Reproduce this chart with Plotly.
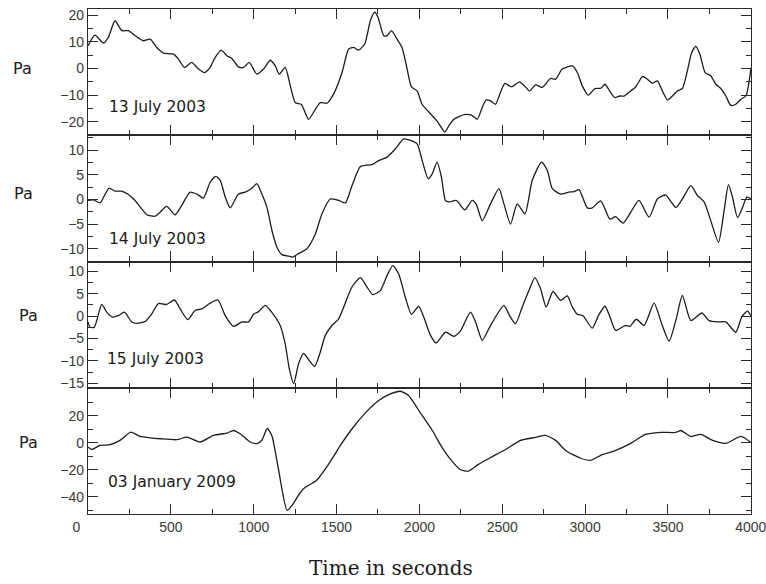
import plotly.graph_objects as go
from plotly.subplots import make_subplots

# ---- pressure records (Pa) against time (s) ----
t_13jul = [0, 42, 93, 123, 163, 204, 244, 284, 334, 375,
           415, 455, 516, 546, 582, 626, 667, 703, 737, 767,
           804, 838, 868, 908, 939, 973, 1019, 1059, 1100, 1130,
           1154, 1190, 1221, 1251, 1287, 1331, 1372, 1402, 1442, 1482,
           1533, 1573, 1603, 1633, 1670, 1704, 1730, 1750, 1785, 1805,
           1831, 1865, 1895, 1926, 1952, 1986, 2016, 2057, 2107, 2153,
           2177, 2208, 2238, 2278, 2314, 2349, 2379, 2403, 2429, 2459,
           2490, 2516, 2556, 2604, 2631, 2665, 2701, 2741, 2792, 2822,
           2862, 2923, 2953, 2983, 3019, 3059, 3094, 3120, 3148, 3180,
           3209, 3235, 3275, 3305, 3346, 3376, 3406, 3436, 3466, 3497,
           3527, 3557, 3587, 3617, 3643, 3668, 3692, 3724, 3758, 3789,
           3819, 3849, 3879, 3909, 3940, 3970, 4000]
p_13jul = [8.5, 12.5, 9.5, 11.7, 17.9, 14.2, 14.2, 12.3, 10.4, 11.0,
           7.9, 5.8, 5.4, 3.5, 0.4, 2.3, -0.2, -1.5, 0.4, 4.1,
           6.9, 4.8, 3.8, 0.6, 0.4, 2.3, -2.1, -0.2, 3.1, 1.0,
           -2.1, 0.4, -6.5, -12.8, -13.4, -19.0, -15.3, -12.8, -13.0, -9.6,
           -1.5, 7.3, 7.9, 6.9, 9.2, 17.9, 21.1, 19.2, 12.3, 12.3,
           14.2, 11.0, 7.9, -0.2, -6.9, -8.4, -13.4, -16.3, -19.7, -23.8,
           -21.5, -19.0, -18.0, -17.2, -17.5, -19.0, -14.6, -11.8, -12.1, -13.4,
           -8.8, -5.6, -6.9, -5.0, -6.3, -8.4, -6.1, -7.1, -3.7, -4.0,
           -0.2, 1.0, -1.5, -6.5, -10.0, -7.5, -7.4, -5.9, -8.4, -10.9,
           -10.3, -10.3, -8.4, -6.9, -3.0, -4.0, -5.5, -4.6, -8.4, -11.8,
           -10.3, -8.4, -7.5, -0.9, 6.0, 8.3, 5.4, -1.5, -2.7, -5.9,
           -7.5, -10.3, -13.8, -13.4, -11.5, -10.3, -0.2]

t_14jul = [0, 32, 73, 99, 127, 163, 204, 244, 284, 324,
           355, 405, 435, 475, 526, 566, 616, 657, 697, 737,
           771, 798, 828, 858, 908, 949, 989, 1019, 1049, 1080,
           1110, 1140, 1170, 1211, 1235, 1271, 1321, 1372, 1412, 1462,
           1513, 1553, 1593, 1644, 1714, 1754, 1805, 1855, 1905, 1946,
           1986, 2016, 2053, 2077, 2107, 2133, 2157, 2177, 2222, 2274,
           2318, 2343, 2379, 2429, 2480, 2510, 2550, 2590, 2637, 2681,
           2737, 2772, 2802, 2852, 2902, 2933, 2963, 3013, 3043, 3094,
           3150, 3184, 3229, 3275, 3325, 3386, 3436, 3486, 3547, 3587,
           3638, 3678, 3718, 3758, 3805, 3839, 3865, 3889, 3920, 3950,
           3976, 4000]
p_14jul = [-0.2, -0.1, -0.7, 0.8, 2.3, 1.7, 1.7, 1.0, -0.2, -1.9,
           -3.1, -3.4, -2.6, -1.4, -3.1, -1.2, 1.5, 1.1, 0.3, 3.5,
           4.7, 3.9, 0.5, -1.7, 1.1, 1.5, 2.3, 3.2, 1.1, -1.6,
           -6.3, -9.7, -11.2, -11.5, -11.7, -11.0, -10.0, -7.0, -2.9, 0.1,
           -0.2, -0.7, 2.8, 6.7, 7.1, 7.9, 8.6, 10.3, 12.3, 12.0,
           11.3, 8.0, 4.2, 5.2, 7.6, 4.5, -0.2, -0.5, -0.2, -2.1,
           -0.2, -1.0, -4.3, -0.9, 2.2, -0.9, -5.0, -0.9, -2.9, 3.9,
           7.6, 5.9, 2.2, 1.1, 1.5, 1.6, 2.0, -1.7, -1.7, -0.3,
           -4.0, -3.5, -4.8, -2.6, -0.2, -3.6, 0.1, 0.9, -1.6, 0.1,
           2.8, 0.8, -0.5, -4.3, -8.7, -2.2, 3.0, 0.5, -3.7, -1.6,
           0.5, 0.1]

t_15jul = [0, 12, 38, 83, 113, 147, 183, 220, 264, 294,
           345, 385, 425, 475, 522, 556, 602, 647, 687, 737,
           784, 828, 878, 929, 969, 999, 1029, 1070, 1106, 1160,
           1190, 1215, 1241, 1271, 1301, 1331, 1368, 1402, 1432, 1472,
           1513, 1543, 1593, 1644, 1684, 1718, 1764, 1805, 1839, 1875,
           1915, 1952, 1996, 2026, 2067, 2101, 2157, 2208, 2248, 2308,
           2339, 2379, 2419, 2459, 2510, 2544, 2580, 2620, 2661, 2697,
           2731, 2765, 2806, 2852, 2892, 2923, 2953, 2987, 3043, 3080,
           3120, 3150, 3184, 3241, 3269, 3309, 3356, 3416, 3462, 3507,
           3547, 3587, 3638, 3704, 3748, 3799, 3849, 3909, 3946, 3980,
           4000]
p_15jul = [-1.3, -2.5, -2.5, 2.6, 0.9, -0.2, 0.1, 0.9, -1.3, -1.6,
           -1.2, 0.5, 2.8, 2.6, 3.6, 1.6, -0.8, 1.3, 1.6, 2.9,
           3.6, 0.1, -2.3, -1.3, -1.3, 0.4, 1.0, 2.4, 1.0, -2.1,
           -6.2, -11.8, -15.1, -10.6, -8.3, -9.7, -11.2, -8.0, -4.3, -2.1,
           -0.6, 2.0, 6.5, 8.6, 6.5, 4.8, 5.7, 9.1, 11.3, 9.4,
           4.2, 0.4, 2.2, -0.2, -4.3, -6.0, -3.6, -4.5, -3.3, 0.9,
           -1.3, -5.4, -2.8, -0.2, 2.4, 0.1, -1.7, 2.0, 5.7, 8.6,
           6.1, 2.0, 5.5, 3.5, 4.5, 2.0, 0.4, 0.1, -2.7, 0.1,
           2.2, -0.2, -3.2, -2.1, -2.3, -0.7, -2.1, 2.9, -1.7, -5.6,
           -1.0, 4.6, -1.0, 0.7, -1.0, -1.3, -1.3, -3.6, -0.1, 1.1,
           0.1]

t_03jan = [0, 22, 72, 133, 193, 258, 314, 375, 435, 536,
           596, 677, 757, 838, 878, 918, 979, 1019, 1050, 1082,
           1110, 1150, 1202, 1239, 1280, 1311, 1378, 1462, 1523, 1595,
           1674, 1752, 1825, 1885, 1933, 2006, 2078, 2139, 2199, 2248,
           2296, 2356, 2429, 2520, 2610, 2701, 2761, 2822, 2882, 2973,
           3033, 3094, 3184, 3275, 3365, 3456, 3547, 3577, 3637, 3698,
           3770, 3849, 3940, 4000]
p_03jan = [-3.2, -5, -2, -1.5, 1.7, 7.8, 4.6, 3.6, 2.9, 2.2,
           4.1, 0.5, 5.4, 7.1, 9, 6.6, 0.5, -0.7, 2, 10.5,
           5, -20, -50, -45, -37, -33, -28, -14, -2, 10.5,
           22, 31, 36, 38, 35, 22, 9, -4, -14, -20,
           -21, -16, -11, -5, 1.7, 3.9, 5.4, 1.7, -5.7, -11.5,
           -13, -9.4, -5.7, -0.5, 6.1, 7.6, 7.6, 9, 4.6, 6.1,
           1.7, -0.5, 4.6, 0.2]

dates = ["13 July 2003", "14 July 2003", "15 July 2003", "03 January 2009"]
series_t = [t_13jul, t_14jul, t_15jul, t_03jan]
series_p = [p_13jul, p_14jul, p_15jul, p_03jan]

# y-axis tick labels per panel
yticks = [[-20, -10, 0, 10, 20],
          [-10, -5, 0, 5, 10],
          [-15, -10, -5, 0, 5, 10],
          [-40, -20, 0, 20]]
yminor = [5, 2.5, 2.5, 10]
yranges = [[-25, 22.3], [-12.6, 13.05], [-16, 12.2], [-52.7, 40.6]]
xticks = [0, 500, 1000, 1500, 2000, 2500, 3000, 3500, 4000]
# the origin label sits a little left of its tick, clear of the y labels
xticktext = ["0" + "\u00a0" * 6] + [str(v) for v in xticks[1:]]

W, H = 766, 584
ML, MR, MT, MB = 88, 15, 9, 70
PW, PH = W - ML - MR, H - MT - MB

fig = make_subplots(rows=4, cols=1, shared_xaxes=True, vertical_spacing=0)

for i, (tt, pp) in enumerate(zip(series_t, series_p)):
    fig.add_trace(go.Scatter(x=tt, y=pp, mode="lines",
                             line=dict(color="#1c1c1c", width=1.3,
                                       shape="spline", smoothing=0.6),
                             showlegend=False, hoverinfo="skip"),
                  row=i + 1, col=1)

tickfont = dict(family="Liberation Sans, Arial, sans-serif",
                size=14, color="#3a3a3a")
axcommon = dict(showline=True, linecolor="#2a2a2a", linewidth=1.2,
                mirror="allticks", ticks="inside", tickcolor="#2a2a2a",
                showgrid=False, zeroline=False, tickfont=tickfont,
                automargin=False)

for i in range(4):
    fig.update_yaxes(range=yranges[i], tickmode="array", tickvals=yticks[i],
                     ticktext=[str(v).replace("-", "\u2212") for v in yticks[i]],
                     ticklen=10,
                     minor=dict(dtick=yminor[i], ticks="inside", ticklen=5,
                                tickcolor="#2a2a2a", showgrid=False),
                     **axcommon, row=i + 1, col=1)
    fig.update_xaxes(range=[0, 4001], tickmode="array", tickvals=xticks,
                     ticktext=xticktext, ticklen=10,
                     ticklabeloverflow="allow",
                     minor=dict(dtick=250, ticks="inside", ticklen=5,
                                tickcolor="#2a2a2a", showgrid=False),
                     **axcommon, row=i + 1, col=1)

# annotations in pixel positions converted to paper coordinates
def px(x):
    return (x - ML) / PW

def py(y):
    return (H - MB - y) / PH

annos = []
pa_pos = [(22, 68), (23.5, 193), (28.5, 315), (28.5, 442)]
date_pos = [(107, 107), (107, 239), (105, 359), (106, 482)]
for (xa, ya), (xd, yd), d in zip(pa_pos, date_pos, dates):
    annos.append(dict(text="Pa", x=px(xa), y=py(ya), xref="paper", yref="paper",
                      xanchor="center", yanchor="middle", showarrow=False,
                      font=dict(family="DejaVu Sans", size=16, color="#1a1a1a")))
    annos.append(dict(text=d, x=px(xd), y=py(yd), xref="paper", yref="paper",
                      xanchor="left", yanchor="middle", showarrow=False,
                      font=dict(family="DejaVu Sans", size=15.5, color="#1a1a1a")))
annos.append(dict(text="Time in seconds", x=px(391), y=py(568), xref="paper",
                  yref="paper", xanchor="center", yanchor="middle", showarrow=False,
                  font=dict(family="DejaVu Serif", size=20, color="#1a1a1a")))

fig.update_layout(width=W, height=H, margin=dict(l=ML, r=MR, t=MT, b=MB),
                  paper_bgcolor="white", plot_bgcolor="white",
                  annotations=annos)

fig.write_html("out.html")
